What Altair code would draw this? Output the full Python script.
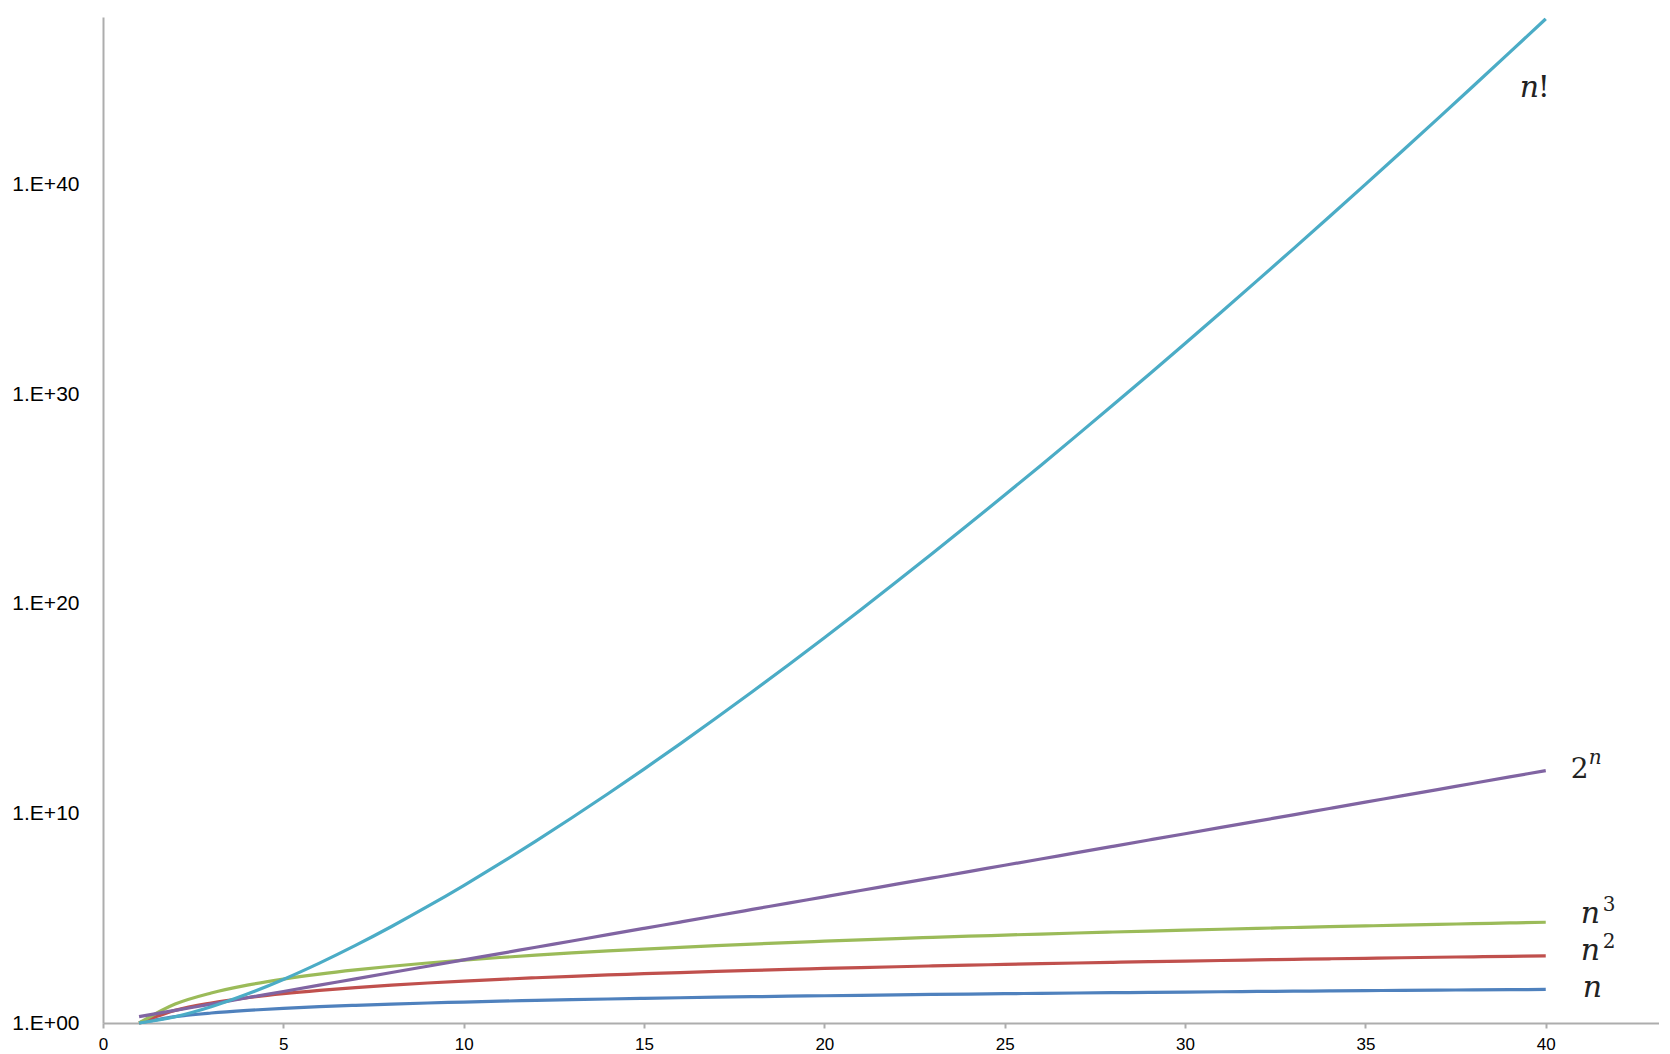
import altair as alt
import pandas as pd

n_vals = [1, 2, 3, 4, 5, 6, 7, 8, 9, 10, 11, 12, 13, 14, 15, 16, 17, 18, 19, 20,
          21, 22, 23, 24, 25, 26, 27, 28, 29, 30, 31, 32, 33, 34, 35, 36, 37, 38, 39, 40]

lin = [1, 2, 3, 4, 5, 6, 7, 8, 9, 10, 11, 12, 13, 14, 15, 16, 17, 18, 19, 20,
       21, 22, 23, 24, 25, 26, 27, 28, 29, 30, 31, 32, 33, 34, 35, 36, 37, 38, 39, 40]

sq = [1, 4, 9, 16, 25, 36, 49, 64, 81, 100, 121, 144, 169, 196, 225, 256, 289, 324,
      361, 400, 441, 484, 529, 576, 625, 676, 729, 784, 841, 900, 961, 1024, 1089,
      1156, 1225, 1296, 1369, 1444, 1521, 1600]

cube = [1, 8, 27, 64, 125, 216, 343, 512, 729, 1000, 1331, 1728, 2197, 2744, 3375,
        4096, 4913, 5832, 6859, 8000, 9261, 10648, 12167, 13824, 15625, 17576, 19683,
        21952, 24389, 27000, 29791, 32768, 35937, 39304, 42875, 46656, 50653, 54872,
        59319, 64000]

pow2 = [2, 4, 8, 16, 32, 64, 128, 256, 512, 1024, 2048, 4096, 8192, 16384, 32768,
        65536, 131072, 262144, 524288, 1048576, 2097152, 4194304, 8388608, 16777216,
        33554432, 67108864, 134217728, 268435456, 536870912, 1073741824, 2147483648,
        4294967296, 8589934592, 17179869184, 34359738368, 68719476736, 137438953472,
        274877906944, 549755813888, 1099511627776]

fact = [1, 2, 6, 24, 120, 720, 5040, 40320, 362880, 3628800, 39916800, 479001600,
        6227020800, 8.71782912e10, 1.307674368e12, 2.0922789888e13, 3.55687428096e14,
        6.402373705728e15, 1.21645100408832e17, 2.43290200817664e18, 5.109094217e19,
        1.124000728e21, 2.585201674e22, 6.204484017e23, 1.551121004e25, 4.032914611e26,
        1.088886945e28, 3.048883446e29, 8.841761994e30, 2.652528598e32, 8.222838654e33,
        2.631308369e35, 8.683317619e36, 2.952327990e38, 1.033314797e40, 3.719933268e41,
        1.376375309e43, 5.230226175e44, 2.039788208e46, 8.159152832e47]

series_names = ["n", "n2", "n3", "2n", "nfact"]
series_values = [lin, sq, cube, pow2, fact]
series_colors = ["#4F81BD", "#C0504D", "#9BBB59", "#8064A2", "#4BACC6"]

x_ticks = [0, 5, 10, 15, 20, 25, 30, 35, 40]
y_ticks = [1, 1e10, 1e20, 1e30, 1e40]

rows = []
for name, vals in zip(series_names, series_values):
    for n, v in zip(n_vals, vals):
        rows.append({"n": n, "v": v, "s": name})
df = pd.DataFrame(rows)

x_enc = alt.X("n:Q",
              scale=alt.Scale(domain=[0, 43.14], nice=False, zero=False),
              axis=alt.Axis(values=x_ticks, title=None, grid=False,
                            domainColor="#ADADAD", domainWidth=2,
                            tickColor="#ADADAD", tickWidth=2, tickSize=5,
                            labelFont="Liberation Sans", labelFontSize=17,
                            labelColor="#000000", labelPadding=8,
                            labelFlush=False))
y_enc = alt.Y("v:Q",
              scale=alt.Scale(type="log", domain=[1, 1e48], nice=False),
              axis=alt.Axis(values=y_ticks, title=None, grid=False, ticks=False,
                            domainColor="#ADADAD", domainWidth=2,
                            labelFont="Liberation Sans", labelFontSize=21,
                            labelColor="#000000", labelPadding=24,
                            labelFlush=False,
                            minExtent=95, maxExtent=95,
                            labelExpr="(round(log(datum.value)/LN10) < 10 ? '1.E+0' : '1.E+') + round(log(datum.value)/LN10)"))

base = alt.Chart(df)
layers = []
for name, col in zip(series_names, series_colors):
    layers.append(
        base.transform_filter(alt.datum.s == name)
        .mark_line(color=col, strokeWidth=3.2, interpolate="monotone")
        .encode(x=x_enc, y=y_enc)
    )

# labels: (series, text, dx, dy, size, italic)
label_parts = [
    ("nfact", "n", -26, 78, 30, True),
    ("nfact", "!", -8, 78, 30, False),
    ("2n", "2", 25, 7, 28, False),
    ("2n", "n", 43, -7, 20, True),
    ("n3", "n", 35, 1, 30, True),
    ("n3", "3", 57, -11, 20, False),
    ("n2", "n", 35, 4, 30, True),
    ("n2", "2", 57, -8, 20, False),
    ("n", "n", 37, 8, 30, True),
]
for s, txt, dx, dy, fs, it in label_parts:
    layers.append(
        base.transform_filter((alt.datum.s == s) & (alt.datum.n == 40))
        .mark_text(text=txt, dx=dx, dy=dy, align="left", baseline="alphabetic",
                   font="DejaVu Serif", fontStyle="italic" if it else "normal",
                   fontSize=fs, color="#222222")
        .encode(x=alt.X("n:Q"), y=alt.Y("v:Q"))
    )

chart = alt.layer(*layers).properties(
    width=1556, height=1006,
    padding={"top": 4, "left": 0, "right": 0, "bottom": 0},
    background="white",
).configure_view(stroke=None)

chart.save("out.html", embed_options={"renderer": "svg", "actions": False})
